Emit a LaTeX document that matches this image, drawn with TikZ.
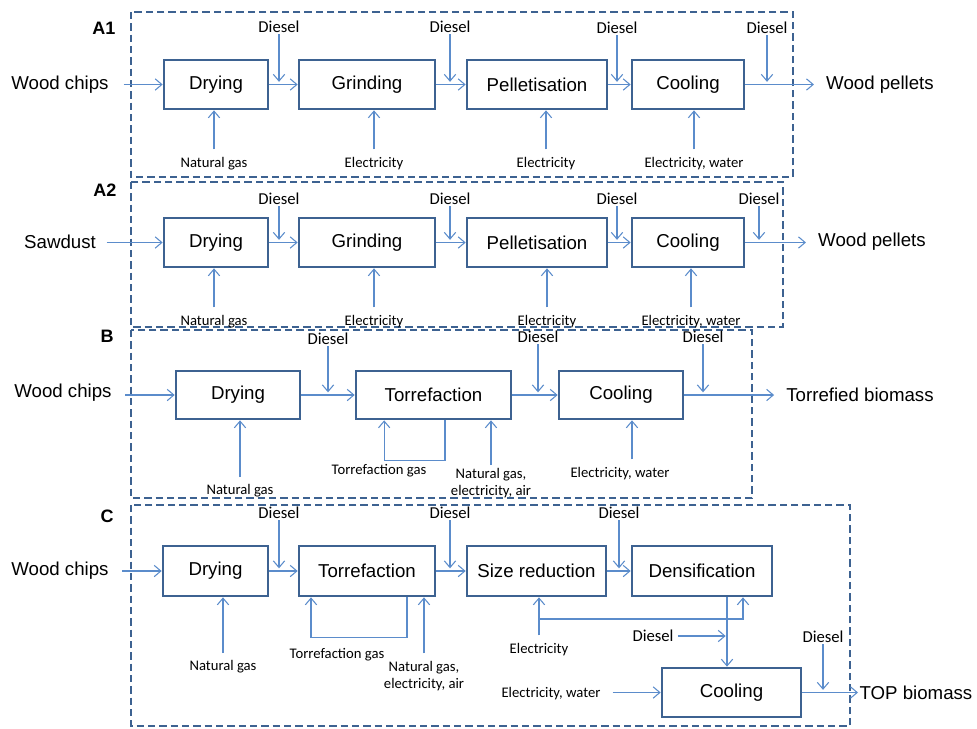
\documentclass[tikz,border=0pt]{standalone}
\usepackage{fontspec}
\setmainfont{Liberation Sans}
\newfontfamily\calib{Carlito}
\usepackage{xcolor}
\usepackage{tikz}
\usetikzlibrary{arrows.meta}

\definecolor{boxblue}{HTML}{3D6291}
\definecolor{lineblue}{HTML}{5B8CCB}

\tikzset{
    proc/.style={draw=boxblue, line width=2pt, minimum height=36.75pt, inner sep=0pt, font=\fontsize{14}{16}\selectfont},
    flow/.style={draw=lineblue, line width=0.8pt, -{Straight Barb[length=5pt,width=8.5pt]}},
    frame/.style={draw=boxblue, line width=2.1pt, dash pattern=on 5.5pt off 3pt},
    big/.style={font=\fontsize{14}{16}\selectfont, inner sep=1pt},
    tag/.style={font=\bfseries\fontsize{13.5}{16}\selectfont},
    fuel/.style={font=\calib\fontsize{12.5}{14}\selectfont, inner sep=1pt},
    feed/.style={font=\calib\fontsize{11}{13}\selectfont, inner sep=1pt, align=center}
}

\begin{document}
\begin{tikzpicture}[x=0.75pt, y=-0.75pt]
    \useasboundingbox (0,0) rectangle (977,728);

    % A1
    \draw[frame] (131,12) rectangle (793,177);
    \node[tag] (tA1) at (104,28) {A1};
    \node[big] (wcA1) at (60,85) {Wood chips};
    \node[proc, minimum width=78pt] (dryA1) at (216,84.5) {Drying};
    \node[proc, minimum width=102pt] (grA1) at (367,84.5) {Grinding};
    \node[proc, minimum width=105pt] (peA1) at (537,84.5) {Pelletisation};
    \node[proc, minimum width=84pt] (coA1) at (688,84.5) {Cooling};
    \node[big] (wpA1) at (880,85) {Wood pellets};
    \draw[flow, shorten <=10pt] (wcA1.east |- dryA1) -- (dryA1.west);
    \draw[flow] (dryA1) -- (grA1);
    \draw[flow] (grA1) -- (peA1);
    \draw[flow] (peA1) -- (coA1);
    \draw[flow, shorten >=8pt] (coA1) -- (wpA1.west |- coA1);

    % Diesel in A1
    \node[fuel] (dA1a) at (279,27) {Diesel};
    \node[fuel] (dA1b) at (450,27) {Diesel};
    \node[fuel] (dA1c) at (617,28) {Diesel};
    \node[fuel] (dA1d) at (767,28) {Diesel};
    \draw[flow, shorten >=2pt] (dA1a) -- (dA1a |- dryA1.east);
    \draw[flow, shorten >=2pt] (dA1b) -- (dA1b |- dryA1.east);
    \draw[flow, shorten >=2pt] (dA1c) -- (dA1c |- dryA1.east);
    \draw[flow, shorten >=2pt] (dA1d) -- (dA1d |- dryA1.east);

    % inputs in A1
    \node[feed] (ngA1) at (214,164) {Natural gas};
    \node[feed] (elA1a) at (374,164) {Electricity};
    \node[feed] (elA1b) at (546,164) {Electricity};
    \node[feed] (ewA1) at (694,164) {Electricity, water};
    \draw[flow, shorten <=5pt] (ngA1.north) -- (ngA1.north |- dryA1.south);
    \draw[flow, shorten <=5pt] (elA1a.north) -- (elA1a.north |- grA1.south);
    \draw[flow, shorten <=5pt] (elA1b.north) -- (elA1b.north |- peA1.south);
    \draw[flow, shorten <=5pt] (ewA1.north) -- (ewA1.north |- coA1.south);

    % A2
    \draw[frame] (131,182) rectangle (783,327);
    \node[tag] (tA2) at (105,190) {A2};
    \node[big] (sdA2) at (60,242) {Sawdust};
    \node[proc, minimum width=78pt] (dryA2) at (216,242.5) {Drying};
    \node[proc, minimum width=102pt] (grA2) at (367,242.5) {Grinding};
    \node[proc, minimum width=105pt] (peA2) at (537,242.5) {Pelletisation};
    \node[proc, minimum width=84pt] (coA2) at (688,242.5) {Cooling};
    \node[big] (wpA2) at (872,242) {Wood pellets};
    \draw[flow, shorten <=7pt] (sdA2.east |- dryA2) -- (dryA2.west);
    \draw[flow] (dryA2) -- (grA2);
    \draw[flow] (grA2) -- (peA2);
    \draw[flow] (peA2) -- (coA2);
    \draw[flow, shorten >=8pt] (coA2) -- (wpA2.west |- coA2);

    % Diesel in A2
    \node[fuel] (dA2a) at (279,199) {Diesel};
    \node[fuel] (dA2b) at (450,199) {Diesel};
    \node[fuel] (dA2c) at (617,199) {Diesel};
    \node[fuel] (dA2d) at (759,199) {Diesel};
    \draw[flow, shorten >=2pt] (dA2a) -- (dA2a |- dryA2.east);
    \draw[flow, shorten >=2pt] (dA2b) -- (dA2b |- dryA2.east);
    \draw[flow, shorten >=2pt] (dA2c) -- (dA2c |- dryA2.east);
    \draw[flow, shorten >=2pt] (dA2d) -- (dA2d |- dryA2.east);

    % inputs in A2
    \node[feed] (ngA2) at (214,322) {Natural gas};
    \node[feed] (elA2a) at (374,322) {Electricity};
    \node[feed] (elA2b) at (547,322) {Electricity};
    \node[feed] (ewA2) at (691,322) {Electricity, water};
    \draw[flow, shorten <=5pt] (ngA2.north) -- (ngA2.north |- dryA2.south);
    \draw[flow, shorten <=5pt] (elA2a.north) -- (elA2a.north |- grA2.south);
    \draw[flow, shorten <=5pt] (elA2b.north) -- (elA2b.north |- peA2.south);
    \draw[flow, shorten <=5pt] (ewA2.north) -- (ewA2.north |- coA2.south);

    % B
    \draw[frame] (131,330) rectangle (752,498);
    \node[tag] (tB) at (107,336) {B};
    \node[big] (wcB) at (63,393) {Wood chips};
    \node[proc, minimum width=93pt, minimum height=36pt] (dryB) at (238,395) {Drying};
    \node[proc, minimum width=116.25pt, minimum height=36pt] (torB) at (433.5,395) {Torrefaction};
    \node[proc, minimum width=93pt, minimum height=36pt] (coB) at (621,395) {Cooling};
    \node[big] (tbB) at (860,395) {Torrefied biomass};
    \draw[flow, shorten <=9pt] (wcB.east |- dryB) -- (dryB.west);
    \draw[flow] (dryB) -- (torB);
    \draw[flow] (torB) -- (coB);
    \draw[flow, shorten >=8pt] (coB) -- (tbB.west |- coB);

    % Diesel in B
    \node[fuel] (dBa) at (328,339) {Diesel};
    \node[fuel] (dBb) at (538,337) {Diesel};
    \node[fuel] (dBc) at (703,337) {Diesel};
    \draw[flow, shorten >=2pt] (dBa) -- (dBa |- dryB.east);
    \draw[flow, shorten >=2pt] (dBb) -- (dBb |- dryB.east);
    \draw[flow, shorten >=2pt] (dBc) -- (dBc |- dryB.east);

    % inputs in B
    \node[feed] (ngB) at (240,491) {Natural gas};
    \draw[flow, shorten <=4.5pt] (ngB.north) -- (ngB.north |- dryB.south);
    \draw[flow] ([xshift=8.6pt]torB.south) -- ++(0,40) -| ([xshift=-37pt]torB.south);
    \node[feed] (tgB) at (379,471) {Torrefaction gas};
    \node[feed] (neaB) at (491,483) {Natural gas,\\electricity, air};
    \draw[flow, shorten <=1pt] (neaB.north) -- (neaB.north |- torB.south);
    \node[feed] (ewB) at (620,474) {Electricity, water};
    \draw[flow, shorten <=5pt] ([xshift=9pt]ewB.north) -- ([xshift=9pt]ewB.north |- coB.south);

    % C
    \draw[frame] (131,505) rectangle (850,726);
    \node[tag] (tC) at (107,516) {C};
    \node[big] (wcC) at (60,571) {Wood chips};
    \node[proc, minimum width=78.75pt, minimum height=37.5pt] (dryC) at (215.5,571) {Drying};
    \node[proc, minimum width=102pt, minimum height=37.5pt] (torC) at (367,571) {Torrefaction};
    \node[proc, minimum width=104.25pt, minimum height=37.5pt] (szC) at (536.5,571) {Size reduction};
    \node[proc, minimum width=105pt, minimum height=37.5pt] (deC) at (702,571) {Densification};
    \node[proc, minimum width=104.25pt] (coC) at (731.5,692.5) {Cooling};
    \node[big, anchor=west] (topC) at (858,692.5) {TOP biomass};
    \draw[flow, shorten <=9pt] (wcC.east |- dryC) -- (dryC.west);
    \draw[flow] (dryC) -- (torC);
    \draw[flow] (torC) -- (szC);
    \draw[flow] (szC) -- (deC);
    \draw[flow] (coC) -- (topC.west);

    % Diesel in C
    \node[fuel] (dCa) at (279,513) {Diesel};
    \node[fuel] (dCb) at (450,513) {Diesel};
    \node[fuel] (dCc) at (619,513) {Diesel};
    \draw[flow, shorten >=2pt] (dCa) -- (dCa |- dryC.east);
    \draw[flow, shorten >=2pt] (dCb) -- (dCb |- dryC.east);
    \draw[flow, shorten >=2pt] (dCc) -- (dCc |- dryC.east);

    % inputs in C
    \node[feed] (ngC) at (223,667) {Natural gas};
    \draw[flow, shorten <=4.5pt] (ngC.north) -- (ngC.north |- dryC.south);
    \draw[flow] ([xshift=30pt]torC.south) -- ++(0,40) -| ([xshift=-42pt]torC.south);
    \node[feed] (tgC) at (337,655) {Torrefaction gas};
    \node[feed] (neaC) at (424,676) {Natural gas,\\electricity, air};
    \draw[flow, shorten <=4.5pt] (neaC.north) -- (neaC.north |- torC.south);
    \node[feed] (elC) at (539,650) {Electricity};
    \draw[flow, shorten <=5pt] (elC.north) -- (elC.north |- szC.south);
    \coordinate (brC) at (539,619);
    \draw[flow] (brC) -| ([xshift=30.75pt]deC.south);

    % densification to cooling
    \coordinate (dnC) at ([xshift=18.75pt]deC.south);
    \draw[flow] (dnC) -- (dnC |- coC.north);
    \node[fuel] (dCd) at (653,636) {Diesel};
    \draw[flow, shorten <=2pt, shorten >=1pt] (dCd.east) -- (dCd.east -| dnC);
    \node[fuel] (dCe) at (823,637) {Diesel};
    \draw[flow, shorten >=2pt] (dCe) -- (dCe |- coC.east);
    \node[feed] (ewC) at (551,694) {Electricity, water};
    \draw[flow, shorten <=8pt] (ewC.east |- coC) -- (coC.west);
\end{tikzpicture}
\end{document}
